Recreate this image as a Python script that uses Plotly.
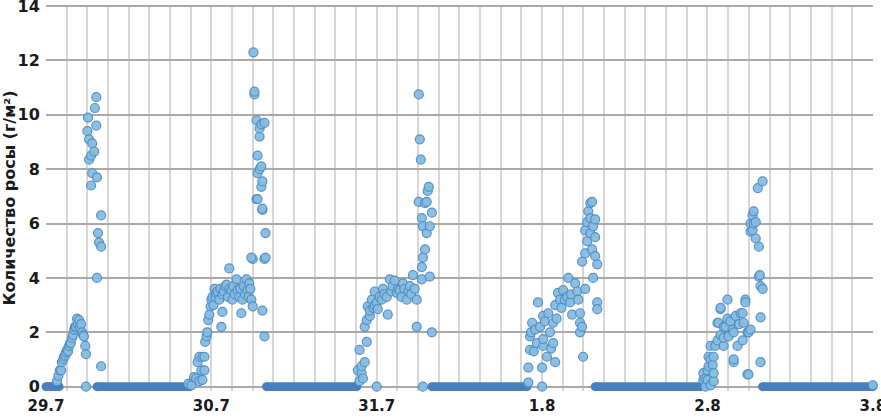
"""
Dew amount scatter, 29.7 - 3.8 (hours since 29.7 00:00 on x).
"""
import plotly.graph_objects as go

# ---------------------------------------------------------------------------
# Data (hours from start, dew g/m2)
# ---------------------------------------------------------------------------
day_labels = ["29.7", "30.7", "31.7", "1.8", "2.8", "3.8"]
day_hours = [0, 24, 48, 72, 96, 120]

# periods when dew stays at 0 (dense band of zero readings)
zero_start = [0.0, 7.4, 32.0, 56.0, 79.7, 104.0]
zero_end = [1.9, 20.8, 45.1, 69.8, 95.0, 120.0]

night1_h = [1.6, 1.8, 2.0, 2.2, 2.3, 2.5, 2.6, 2.8, 2.9, 3.05, 3.2, 3.35, 3.5, 3.6,
            3.8, 3.9, 4.1, 4.2, 4.35, 4.5, 4.6, 4.8, 4.9, 5.1, 5.25, 5.4, 5.5, 5.7,
            5.8, 5.8, 6.0, 6.1, 6.25, 6.25, 6.55, 6.55, 6.7, 6.7, 7.0, 7.1, 7.3,
            7.3, 7.4, 7.4, 7.55, 7.7, 8.0, 8.0, 8.0]
night1_v = [0.2, 0.4, 0.6, 0.6, 0.9, 1.0, 1.1, 1.15, 1.25, 1.35, 1.3, 1.5, 1.6, 1.6,
            1.8, 1.9, 2.1, 2.2, 2.2, 2.5, 2.3, 2.45, 2.2, 2.3, 2.0, 1.9, 1.85, 1.5,
            1.2, 0.0, 9.4, 9.9, 9.1, 8.35, 8.5, 7.4, 8.95, 7.85, 8.65, 10.25, 9.6,
            10.65, 7.7, 4.0, 5.65, 5.3, 5.15, 6.3, 0.75]

night2_h = [20.65, 21.1, 21.5, 21.8, 22.0, 22.25, 22.25, 22.55, 22.7, 22.7, 23.0,
            23.0, 23.1, 23.3, 23.4, 23.55, 23.7, 23.9, 24.0, 24.15, 24.3, 24.45,
            24.6, 24.7, 24.9, 25.15, 25.3, 25.45, 25.6, 25.6, 25.8, 26.0, 26.2,
            26.4, 26.6, 26.6, 26.9, 27.05, 27.2, 27.4, 27.65, 27.8, 28.05, 28.2,
            28.35, 28.5, 28.7, 28.9, 29.1, 29.25, 29.4, 29.5, 29.65, 29.8, 30.0,
            30.0, 29.8, 30.1, 30.25, 30.25, 30.55, 30.55, 30.7, 30.7, 30.7, 31.0,
            31.0, 31.0, 31.25, 31.25, 31.25, 31.4, 31.4, 31.4, 31.4, 31.7, 31.7,
            31.85, 31.85, 31.7]
night2_v = [0.1, 0.05, 0.35, 0.3, 0.9, 1.1, 0.2, 0.6, 1.1, 0.25, 0.6, 1.1, 1.65,
            1.85, 2.0, 2.45, 2.65, 2.95, 3.2, 3.3, 3.0, 3.6, 3.3, 3.45, 3.5, 3.2,
            3.6, 2.2, 3.4, 2.75, 3.5, 3.7, 3.75, 3.3, 4.35, 3.6, 3.55, 3.2, 3.7,
            3.4, 3.95, 3.55, 3.3, 3.6, 2.7, 3.2, 3.7, 3.4, 3.95, 3.55, 3.3, 3.8,
            3.6, 3.2, 2.95, 4.7, 4.75, 12.3, 10.75, 10.85, 9.8, 6.9, 8.5, 7.85, 6.9,
            9.2, 9.5, 8.0, 9.65, 8.1, 7.35, 6.5, 7.55, 6.55, 2.8, 4.7, 1.85, 5.65,
            4.75, 9.7]

night3_h = [45.25, 45.5, 45.5, 45.8, 45.8, 46.0, 46.25, 46.25, 46.55, 46.55, 46.7,
            47.0, 47.0, 47.3, 47.5, 47.7, 47.7, 48.0, 48.0, 48.15, 48.4, 48.7,
            48.9, 49.1, 49.45, 49.6, 49.9, 50.1, 50.3, 50.6, 50.9, 51.1, 51.35,
            51.6, 51.8, 52.0, 52.35, 52.6, 52.8, 53.0, 53.25, 53.5, 53.8, 53.8,
            54.1, 54.1, 54.25, 54.4, 54.55, 54.55, 54.55, 54.7, 54.7, 54.7, 55.0,
            55.0, 55.25, 55.25, 55.4, 55.55, 55.7, 55.7, 56.0, 56.0]
night3_v = [0.6, 0.2, 1.35, 0.5, 0.75, 0.3, 0.9, 2.2, 1.65, 2.45, 2.95, 2.6, 2.8,
            3.2, 2.9, 3.5, 3.0, 3.1, 0.0, 2.85, 3.3, 3.2, 3.6, 3.4, 3.3, 2.65, 3.95,
            3.5, 3.7, 3.9, 3.45, 3.6, 3.55, 3.3, 3.8, 3.6, 3.2, 3.5, 3.7, 3.4, 4.1,
            3.6, 3.2, 2.2, 10.75, 6.8, 9.1, 8.35, 3.95, 4.4, 6.2, 4.75, 0.0, 5.9,
            5.05, 6.75, 5.65, 6.8, 7.2, 7.35, 5.9, 4.05, 6.4, 2.0]

night4_h = [70.0, 70.0, 70.25, 70.25, 70.4, 70.55, 70.8, 71.0, 71.25, 71.4, 71.7,
            72.0, 72.0, 72.15, 72.15, 72.15, 72.4, 72.7, 72.9, 73.15, 73.3, 73.6,
            73.6, 73.9, 73.9, 74.1, 74.3, 74.6, 74.8, 75.05, 75.3, 75.65, 75.8,
            76.05, 76.2, 76.35, 76.8, 77.1, 77.25, 77.5, 77.5, 77.5, 77.8, 77.8,
            77.95, 78.25, 78.25, 78.25, 78.55, 78.55, 78.7, 79.0, 79.0, 79.0,
            79.25, 79.25, 79.4, 79.4, 79.7, 79.7, 79.7, 80.0, 80.0, 80.0]
night4_v = [0.15, 0.7, 1.35, 1.85, 2.0, 2.35, 1.3, 2.1, 1.6, 3.1, 2.2, 0.7, 0.0,
            2.6, 1.5, 1.75, 2.4, 1.1, 2.7, 2.0, 1.4, 1.6, 2.35, 0.9, 3.0, 2.5, 3.45,
            3.2, 2.9, 3.55, 3.2, 3.3, 4.0, 3.1, 3.4, 2.65, 3.8, 3.5, 3.2, 2.7, 2.35,
            2.0, 2.2, 4.6, 1.1, 3.6, 4.9, 5.75, 5.35, 6.05, 6.45, 5.65, 6.2, 6.75,
            5.05, 6.8, 5.9, 4.0, 4.8, 5.5, 6.15, 3.1, 2.85, 4.5]

night5_h = [95.4, 95.4, 95.7, 95.7, 96.0, 96.0, 96.15, 96.15, 96.45, 96.45, 96.45,
            96.75, 96.9, 96.9, 96.9, 97.15, 97.45, 97.45, 97.6, 97.9, 97.9, 97.9,
            98.35, 98.35, 98.35, 98.6, 98.9, 98.9, 99.05, 99.3, 99.65, 99.8, 99.8,
            99.8, 100.1, 100.35, 100.6, 100.8, 101.1, 101.1, 101.25, 101.5, 101.5,
            101.8, 101.8, 101.95, 101.95, 102.25, 102.25, 102.25, 102.55, 102.55,
            102.7, 102.7, 103.0, 103.0, 103.3, 103.45, 103.45, 103.6, 103.7,
            103.7, 103.7, 104.0, 104.0]
night5_v = [0.5, 0.25, 0.0, 0.3, 0.25, 0.6, 0.75, 1.1, 0.05, 1.0, 1.5, 0.8, 0.2,
            1.1, 0.5, 1.5, 1.7, 2.35, 2.35, 1.9, 2.85, 2.9, 2.2, 1.5, 1.8, 2.2, 2.5,
            3.2, 1.85, 2.4, 2.1, 0.9, 2.0, 1.0, 2.6, 1.5, 2.3, 2.7, 1.7, 2.7, 2.35,
            3.2, 3.1, 2.0, 0.45, 2.0, 0.45, 2.1, 6.0, 5.7, 5.75, 6.3, 6.45, 6.0,
            6.05, 5.45, 7.3, 5.15, 4.05, 4.1, 0.9, 2.55, 3.7, 3.6, 7.55]

end_h = [120.0]
end_v = [0.05]

# ---------------------------------------------------------------------------
# Figure
# ---------------------------------------------------------------------------
BAND = "#4a7fbd"
FILL = "#86bce0"
EDGE = "#4f8dc4"
FONT = "DejaVu Sans"

fig = go.Figure()

# zero band drawn as thick line segments
for s, e in zip(zero_start, zero_end):
    fig.add_trace(go.Scatter(
        x=[s, e], y=[0, 0], mode="lines+markers",
        line=dict(color=BAND, width=9),
        marker=dict(size=9, color=BAND),
        cliponaxis=False, showlegend=False, hoverinfo="skip",
    ))

all_h = night1_h + night2_h + night3_h + night4_h + night5_h + end_h
all_v = night1_v + night2_v + night3_v + night4_v + night5_v + end_v
fig.add_trace(go.Scatter(
    x=all_h, y=all_v, mode="markers",
    marker=dict(size=9, color=FILL, opacity=0.95,
                line=dict(color=EDGE, width=1.2)),
    cliponaxis=False, showlegend=False,
))

grid_ticks = list(range(0, 121, 3))
grid_text = [day_labels[day_hours.index(t)] if t in day_hours else "" for t in grid_ticks]

fig.update_layout(
    width=881, height=417,
    margin=dict(l=46, r=8, t=5, b=26, autoexpand=False),
    plot_bgcolor="white", paper_bgcolor="white",
    font=dict(family=FONT, color="#1a1a1a"),
)
fig.update_xaxes(
    range=[0, 120.02], tickmode="array", tickvals=grid_ticks, ticktext=grid_text,
    showgrid=True, gridcolor="#d6d6d6", gridwidth=1.5,
    zeroline=False, showline=False,
    ticks="outside", ticklen=1, tickcolor="rgba(0,0,0,0)",
    ticklabeloverflow="allow",
    tickfont=dict(size=15, family=FONT, weight="bold"),
)
fig.update_yaxes(
    range=[-0.16, 14.04], tickmode="array", tickvals=[0, 2, 4, 6, 8, 10, 12, 14],
    showgrid=True, gridcolor="#a9a9a9", gridwidth=1.5,
    zeroline=False, showline=False,
    ticks="outside", ticklen=2, tickcolor="rgba(0,0,0,0)",
    ticklabeloverflow="allow",
    tickfont=dict(size=16, family=FONT, weight="bold"),
    title=dict(text="Количество росы (г/м²)", standoff=4,
               font=dict(size=16, family=FONT, weight="bold")),
)

fig.write_html("out.html", config={"displayModeBar": False},
               post_script="document.body.style.margin='0';")
